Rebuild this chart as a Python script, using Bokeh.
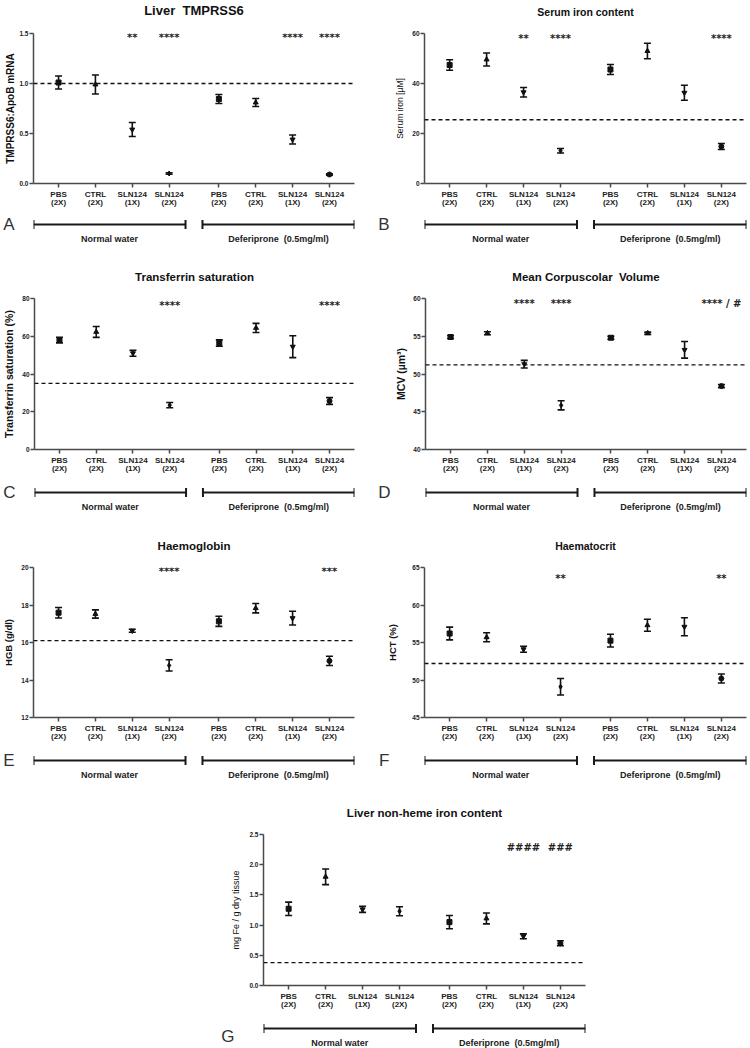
import numpy as np
from bokeh.plotting import figure
from bokeh.models import (Range1d, FixedTicker, Span, Whisker, TeeHead, ColumnDataSource,
                          Title, PrintfTickFormatter)
from bokeh.layouts import column, row
from bokeh.embed import file_html
from bokeh.resources import INLINE
from bokeh.core.properties import value

# ---------------- data ----------------
treatments = ["PBS\n(2X)", "CTRL\n(2X)", "SLN124\n(1X)", "SLN124\n(2X)"]
groups = ["Normal water", "Deferiprone \u00a0(0.5mg/ml)"]
markers = ["square", "triangle", "inverted_triangle", "diamond",
           "square", "triangle", "inverted_triangle", "circle"]

tmprss6_mean = [1.01, 0.99, 0.54, 0.10, 0.845, 0.81, 0.44, 0.09]
tmprss6_sem = [0.065, 0.095, 0.07, 0.008, 0.045, 0.04, 0.045, 0.006]
tmprss6_ref = 1.0
tmprss6_sig = ["", "", "**", "****", "", "", "****", "****"]
tmprss6_ticks = [0.0, 0.5, 1.0, 1.5]

serum_iron_mean = [47.4, 49.6, 36.5, 13.1, 45.6, 53.0, 36.3, 14.8]
serum_iron_sem = [2.1, 2.6, 1.9, 0.9, 2.0, 3.1, 3.0, 1.2]
serum_iron_ref = 25.5
serum_iron_sig = ["", "", "**", "****", "", "", "", "****"]
serum_iron_ticks = [0, 20, 40, 60]

tsat_mean = [58.0, 62.3, 51.0, 23.5, 56.4, 64.4, 54.5, 25.7]
tsat_sem = [1.5, 2.9, 1.6, 1.4, 1.7, 2.4, 5.8, 1.8]
tsat_ref = 35.0
tsat_sig = ["", "", "", "****", "", "", "", "****"]
tsat_ticks = [0, 20, 40, 60, 80]

mcv_mean = [54.9, 55.4, 51.3, 45.85, 54.8, 55.4, 53.2, 48.4]
mcv_sem = [0.2, 0.2, 0.5, 0.6, 0.2, 0.15, 1.1, 0.2]
mcv_ref = 51.2
mcv_sig = ["", "", "****", "****", "", "", "", "**** / #"]
mcv_ticks = [40, 45, 50, 55, 60]

hgb_mean = [17.59, 17.52, 16.63, 14.78, 17.13, 17.83, 17.3, 15.02]
hgb_sem = [0.28, 0.22, 0.08, 0.3, 0.27, 0.25, 0.37, 0.25]
hgb_ref = 16.1
hgb_sig = ["", "", "", "****", "", "", "", "***"]
hgb_ticks = [12, 14, 16, 18, 20]

hct_mean = [56.2, 55.7, 54.1, 49.1, 55.25, 57.3, 57.1, 50.2]
hct_sem = [0.85, 0.6, 0.4, 1.1, 0.85, 0.8, 1.2, 0.6]
hct_ref = 52.2
hct_sig = ["", "", "", "**", "", "", "", "**"]
hct_ticks = [45, 50, 55, 60, 65]

liver_iron_mean = [1.27, 1.80, 1.26, 1.23, 1.05, 1.11, 0.815, 0.70]
liver_iron_sem = [0.11, 0.13, 0.05, 0.075, 0.11, 0.09, 0.04, 0.04]
liver_iron_ref = 0.38
liver_iron_sig = ["", "", "", "", "", "", "####", "###"]
liver_iron_ticks = [0.0, 0.5, 1.0, 1.5, 2.0, 2.5]

# ---------------- styling ----------------
FONT = "Liberation Sans"
AX = "#4a4a4a"
GAP = 0.35
PAD = 0.68


def positions():
    n = len(treatments)
    return [g * (n + GAP) + i + 1 for g in range(len(groups)) for i in range(n)]


def panel(title, tsize, ylabel, lsize, lstyle, lstand, mean, sem, ref, sig, sig_y,
          ticks, fmt, letter, letter_gap, letter_dy, W, bl, br, top, fh, bb, bh, by):
    x = positions()
    x0, x1 = x[0] - PAD, x[-1] + PAD
    xr = Range1d(x0, x1)
    p = figure(width=W, height=top + fh + bb, x_range=xr,
               y_range=Range1d(ticks[0], ticks[-1]), output_backend="svg",
               toolbar_location=None, min_border_left=bl, min_border_right=br,
               min_border_top=top, min_border_bottom=bb, title=None)
    p.outline_line_color = None
    p.grid.visible = False
    # spacer keeps the title well above the frame, as in the original
    p.add_layout(Title(text=" ", text_font_size="4px", standoff=9), "above")
    p.add_layout(Title(text=title, align="center", standoff=0, text_font=FONT,
                       text_font_size=f"{tsize}px", text_font_style="bold",
                       text_color="#111111"), "above")

    for ax in (p.xaxis[0], p.yaxis[0]):
        ax.axis_line_color = AX
        ax.axis_line_width = 1.5
        ax.major_tick_line_color = AX
        ax.major_tick_line_width = 1.5
        ax.major_tick_in = 0
        ax.major_tick_out = 4
        ax.minor_tick_line_color = None
        ax.major_label_text_font = FONT
        ax.major_label_text_font_style = "bold"
        ax.major_label_text_color = "#222222"

    p.xaxis.ticker = FixedTicker(ticks=x)
    p.xaxis.major_label_overrides = {xi: lab for xi, lab in zip(x, treatments * len(groups))}
    p.xaxis.major_label_text_font_size = "8px"
    p.xaxis.major_label_text_line_height = 0.9
    p.xaxis.major_label_standoff = 2

    p.yaxis.ticker = FixedTicker(ticks=ticks)
    p.yaxis.formatter = PrintfTickFormatter(format=fmt)
    p.yaxis.major_label_text_font_size = "6.5px"
    p.yaxis.major_label_standoff = 1
    p.yaxis.axis_label = ylabel
    p.yaxis.axis_label_text_font = FONT
    p.yaxis.axis_label_text_font_size = f"{lsize}px"
    p.yaxis.axis_label_text_font_style = lstyle
    p.yaxis.axis_label_text_color = "#111111"
    p.yaxis.axis_label_standoff = lstand

    src = ColumnDataSource(dict(x=x, y=mean,
                                upper=[m + s for m, s in zip(mean, sem)],
                                lower=[m - s for m, s in zip(mean, sem)],
                                marker=markers, sig=sig))
    p.add_layout(Span(location=ref, dimension="width", line_color="#111111",
                      line_width=1.3, line_dash="4 3"))
    p.add_layout(Whisker(source=src, base="x", upper="upper", lower="lower",
                         line_width=1.6, line_color="#111111",
                         upper_head=TeeHead(size=7, line_width=1.6, line_color="#111111"),
                         lower_head=TeeHead(size=7, line_width=1.6, line_color="#111111")))
    p.scatter("x", "y", marker="marker", size=5, color="#111111", source=src)
    p.text(x="x", y=sig_y, text="sig", source=src, text_align="center",
           text_baseline="top", y_offset=-2, text_font=value("DejaVu Sans"),
           text_font_size="10px", text_font_style="bold", text_color="#222222")

    # bracket strip: same x-scale and frame as the plot above it
    b = figure(width=W, height=bh, x_range=xr, y_range=Range1d(bh, 0),
               output_backend="svg", toolbar_location=None, x_axis_location=None,
               min_border_left=bl, min_border_right=br, min_border_top=0,
               min_border_bottom=0)
    b.outline_line_color = None
    b.grid.visible = False
    ly = by + letter_dy
    b.yaxis.ticker = FixedTicker(ticks=[ly])
    b.yaxis.major_label_overrides = {ly: letter}
    b.yaxis.axis_line_color = None
    b.yaxis.major_tick_line_color = None
    b.yaxis.minor_tick_line_color = None
    b.yaxis.major_tick_out = 0
    b.yaxis.major_tick_in = 0
    b.yaxis.major_label_standoff = letter_gap
    b.yaxis.major_label_text_font = FONT
    b.yaxis.major_label_text_font_size = "17px"
    b.yaxis.major_label_text_color = "#333333"
    n = len(treatments)
    xm = (x[n - 1] + x[n]) / 2
    starts = [x0, xm + 0.23]
    ends = [xm - 0.23, x1]
    b.segment(x0=starts, y0=[by, by], x1=ends, y1=[by, by], line_width=2, line_color="#1a1a1a")
    caps = starts + ends
    b.segment(x0=caps, y0=[by - 4.5] * 4, x1=caps, y1=[by + 4.5] * 4, line_width=2,
              line_color="#1a1a1a")
    b.text(x=[(a + e) / 2 for a, e in zip(starts, ends)], y=[by + 14, by + 14], text=groups,
           text_align="center", text_baseline="middle", text_font=value(FONT),
           text_font_size="9px", text_font_style="bold", text_color="#222222")
    return column(p, b)


LW = dict(W=375, bl=32, br=21)
RW = dict(W=375, bl=49, br=4)

pA = panel("Liver \u00a0TMPRSS6", 13, "TMPRSS6:ApoB mRNA", 10, "bold", 0,
           tmprss6_mean, tmprss6_sem, tmprss6_ref, tmprss6_sig, 1.5, tmprss6_ticks, "%.1f",
           "A", 19, 0, top=33, fh=150, bb=28, bh=54, by=13, **LW)
pB = panel("Serum iron content", 10.5, "Serum iron [µM]", 8.5, "normal", 4,
           serum_iron_mean, serum_iron_sem, serum_iron_ref, serum_iron_sig, 59.5,
           serum_iron_ticks, "%d", "B", 35, 0, top=33, fh=150, bb=28, bh=54, by=13, **RW)
pC = panel("Transferrin saturation", 11.5, "Transferrin saturation (%)", 10.5, "bold", 4,
           tsat_mean, tsat_sem, tsat_ref, tsat_sig, 78, tsat_ticks, "%d",
           "C", 19, 0, top=33, fh=151, bb=28, bh=56, by=15, **LW)
pD = panel("Mean Corpuscolar \u00a0Volume", 11.5, "MCV (µm³)", 10.5, "bold", 3,
           mcv_mean, mcv_sem, mcv_ref, mcv_sig, 59.75, mcv_ticks, "%d",
           "D", 35, 0, top=33, fh=151, bb=28, bh=56, by=15, **RW)
pE = panel("Haemoglobin", 11.5, "HGB (g/dl)", 9.5, "bold", 4,
           hgb_mean, hgb_sem, hgb_ref, hgb_sig, 20, hgb_ticks, "%d",
           "E", 19, 0, top=34, fh=150, bb=28, bh=55, by=15, **LW)
pF = panel("Haematocrit", 10.5, "HCT (%)", 9.5, "bold", 11,
           hct_mean, hct_sem, hct_ref, hct_sig, 64.0, hct_ticks, "%d",
           "F", 35, 0, top=34, fh=150, bb=28, bh=55, by=15, **RW)
pG = panel("Liver non-heme iron content", 11.5, "mg Fe / g dry tissue", 9, "normal", 5,
           liver_iron_mean, liver_iron_sem, liver_iron_ref, liver_iron_sig, 2.34,
           liver_iron_ticks, "%.1f", "G", 29, 8, W=605, bl=263, br=20, top=34, fh=151,
           bb=28, bh=35, by=15)

root = column(row(pA, pB), row(pC, pD), row(pE, pF), pG)

open("out.html", "w").write(file_html(root, INLINE))
